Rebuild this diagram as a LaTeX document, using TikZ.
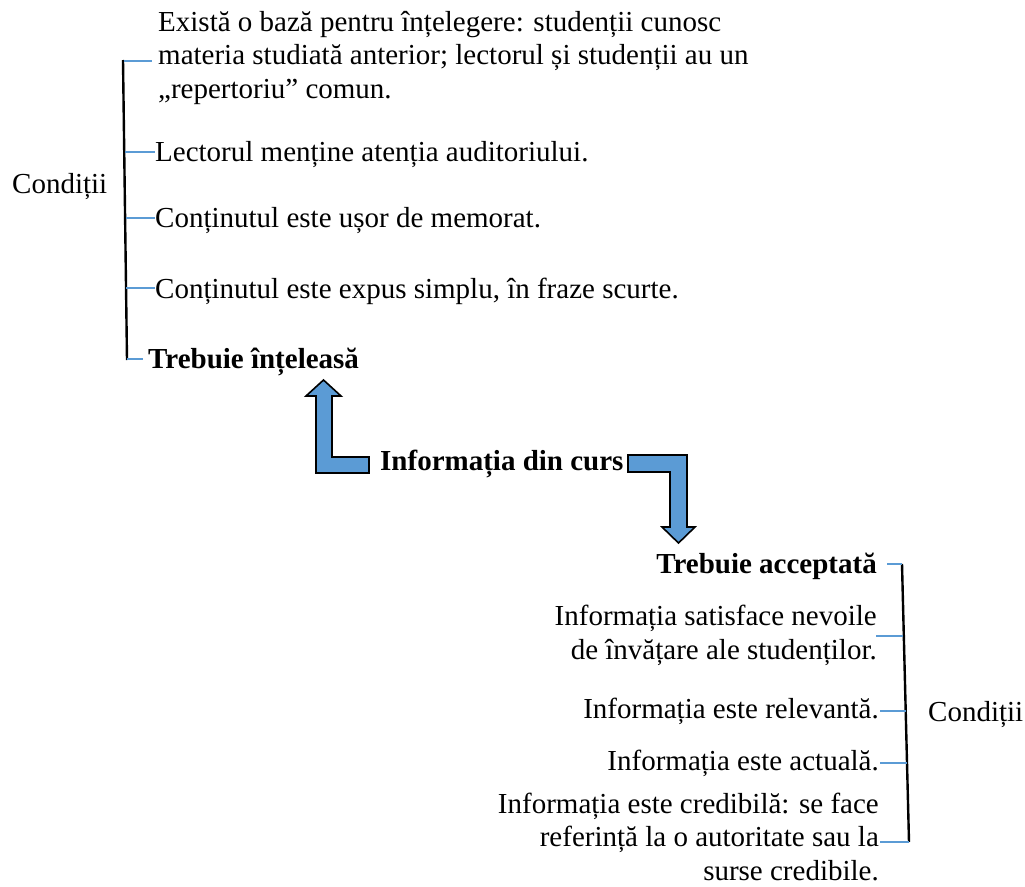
\documentclass[tikz,border=0pt]{standalone}
\usepackage{fontspec}
\setmainfont{Liberation Serif}
\definecolor{tickblue}{HTML}{5B9BD5}
\definecolor{arrowblue}{HTML}{5B9BD5}
\begin{document}
\begin{tikzpicture}[x=1pt,y=-1pt,
  txt/.style={inner sep=0pt, font=\fontsize{29}{33.5}\selectfont},
  btxt/.style={inner sep=0pt, font=\fontsize{29}{33.5}\selectfont\bfseries},
  tick/.style={draw=tickblue, line width=2.4pt},
  brace/.style={draw=black, line width=2.4pt},
  barrow/.style={fill=arrowblue, draw=black, line width=1.6pt, line join=miter}]
\useasboundingbox (0,0) rectangle (1025,886);
% left group (base anchor of a multi-line node = last line)
\node[txt, anchor=base west, align=left] (l1) at (158,98) {Există o bază pentru înțelegere: studenții cunosc\\materia studiată anterior; lectorul și studenții au un\\„repertoriu” comun.};
\node[txt, anchor=base west] (l2) at (155,161) {Lectorul menține atenția auditoriului.};
\node[txt, anchor=base west] (l3) at (155,227) {Conținutul este ușor de memorat.};
\node[txt, anchor=base west] (l4) at (155,298) {Conținutul este expus simplu, în fraze scurte.};
\node[btxt, anchor=base west] (lt) at (148,368) {Trebuie înțeleasă};
\node[txt, anchor=base west] (lc) at (12,193) {Condiții};
\coordinate (LA) at (123,60);
\coordinate (LB) at (127,360);
\draw[brace] (LA) -- (LB);
\coordinate (La1) at (124,61);  \coordinate (Lb1) at (152,61);
\coordinate (La2) at (125,152); \coordinate (Lb2) at (155,152);
\coordinate (La3) at (126,218); \coordinate (Lb3) at (155,218);
\coordinate (La4) at (126,288); \coordinate (Lb4) at (155,288);
\coordinate (La5) at (127,359); \coordinate (Lb5) at (143,359);
\foreach \i in {1,...,5} \draw[tick] (La\i) -- (Lb\i);
% centre
\node[btxt, anchor=base west] (info) at (380,470) {Informația din curs};
\draw[barrow] (369,457) -- (332,457) -- (332,396) -- (341,396) -- (323.5,380) -- (306,396) -- (316,396) -- (316,473) -- (369,473) -- cycle;
\draw[barrow] (628,455) -- (687,455) -- (687,527) -- (695,527) -- (678.5,543) -- (662,527) -- (670,527) -- (670,472) -- (628,472) -- cycle;
% right group
\node[btxt, anchor=base east] (rt) at (877,573) {Trebuie acceptată};
\node[txt, anchor=base east, align=right] (r1) at (877,659) {Informația satisface nevoile\\de învățare ale studenților.};
\node[txt, anchor=base east] (r2) at (879,718) {Informația este relevantă.};
\node[txt, anchor=base east] (r3) at (879,770) {Informația este actuală.};
\node[txt, anchor=base east, align=right] (r4) at (879,880) {Informația este credibilă: se face\\referință la o autoritate sau la\\surse credibile.};
\node[txt, anchor=base west] (rc) at (928,721) {Condiții};
\coordinate (RA) at (902,564);
\coordinate (RB) at (909,842);
\draw[brace] (RA) -- (RB);
\coordinate (Ra1) at (887,564); \coordinate (Rb1) at (902,564);
\coordinate (Ra2) at (876,636); \coordinate (Rb2) at (903,636);
\coordinate (Ra3) at (880,711); \coordinate (Rb3) at (906,711);
\coordinate (Ra4) at (880,763); \coordinate (Rb4) at (907,763);
\coordinate (Ra5) at (880,842); \coordinate (Rb5) at (909,842);
\foreach \i in {1,...,5} \draw[tick] (Ra\i) -- (Rb\i);
\end{tikzpicture}
\end{document}
